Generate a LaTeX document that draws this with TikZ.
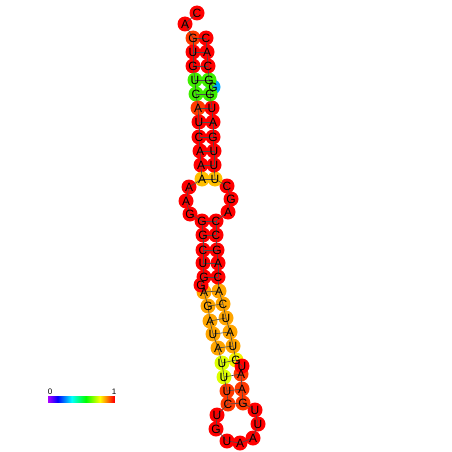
\documentclass[tikz,border=0pt]{standalone}
\usepackage{fontspec}
\setmainfont{Liberation Sans}
\definecolor{cr}{HTML}{FF0000}
\definecolor{cor}{HTML}{FF3A00}
\definecolor{co}{HTML}{FFA500}
\definecolor{cyo}{HTML}{FFBF00}
\definecolor{cy}{HTML}{DDFF00}
\definecolor{cyy}{HTML}{F2F200}
\definecolor{cg}{HTML}{40EE00}
\definecolor{cb}{HTML}{00AAFF}
\tikzset{
  ntc/.style={circle, minimum size=15pt, inner sep=0pt, outer sep=0pt},
  ntl/.style={font=\fontsize{12}{12}\selectfont, inner sep=0pt},
  bb/.style={draw=black!70, line width=0.6pt},
  lbl/.style={font=\fontsize{8}{8}\selectfont, inner sep=0pt}
}
\def\ntlist{1/197/13/cr/C, 2/185/24/cr/A, 3/193/38/cor/G, 4/193/52/cr/U, 5/193/66/cr/G, 6/195/80/cg/U, 7/196/94/cg/C, 8/198/108/cor/A, 9/199/122/cr/U, 10/199/137/cr/C, 11/200/151/cr/A, 12/201/165/cr/A, 13/202/179/cyo/A, 14/189/187/cr/A, 15/186/201/cr/A, 16/190/214/cr/G, 17/202/221/cr/G, 18/203/235/cr/G, 19/203/250/cr/C, 20/203/263/cr/U, 21/204/277/cr/G, 23/204/292/co/A, 22/201/285/cr/G, 24/208/306/co/G, 25/210/321/co/A, 26/213/334/co/U, 27/218/348/co/A, 28/222/363/cy/U, 29/224/377/cy/U, 30/227/391/cor/U, 31/228/404/cor/C, 32/217/415/cr/U, 33/216/429/cr/G, 34/227/441/cr/U, 35/240/443/cr/A, 36/253/438/cr/A, 37/258/424/cr/U, 38/255/410/cr/U, 39/243/403/cor/G, 40/242/389/cor/A, 41/241/374/cor/A, 42/236/360/cyy/G, 42b/242/366/cr/U, 43/233/346/co/U, 44/230/332/co/A, 45/226/318/co/U, 46/223/304/co/C, 47/219/291/co/A, 48/218/277/cr/C, 49/218/263/cr/A, 50/217/250/cr/G, 51/216/235/cr/C, 52/216/221/cr/C, 53/228/212/cr/A, 54/231/199/cr/G, 55/227/186/cr/C, 56/215/179/cyo/U, 57/214/165/cr/U, 58/214/151/cr/U, 59/213/137/cr/G, 60/213/122/cr/A, 61/212/108/cr/U, 63/213/87/cb/G, 62/210/94/cg/G, 64/209/80/cg/G, 65/208/66/cr/C, 66/207/52/cr/A, 67/206/38/cr/C}
\begin{document}
\begin{tikzpicture}[x=1pt,y=-1pt]
\useasboundingbox (0,0) rectangle (452,452);
% circles
\foreach \n/\x/\y/\c/\l in \ntlist {
  \node[ntc, fill=\c] (n\n) at (\x,\y) {};
}
% backbone
\foreach \a/\b in {1/2,2/3,3/4,4/5,5/6,6/7,7/8,8/9,9/10,10/11,11/12,12/13,13/14,14/15,15/16,16/17,17/18,18/19,19/20,20/21,21/22,22/23,23/24,24/25,25/26,26/27,27/28,28/29,29/30,30/31,31/32,32/33,33/34,34/35,35/36,36/37,37/38,38/39,39/40,40/41,41/42b,42b/42,42/43,43/44,44/45,45/46,46/47,47/48,48/49,49/50,50/51,51/52,52/53,53/54,54/55,55/56,56/57,57/58,58/59,59/60,60/61,61/62,62/63,63/64,64/65,65/66,66/67} {
  \draw[bb] (n\a.center) -- (n\b.center);
}
% base pairs
\foreach \a/\b in {3/67,4/66,5/65,6/64,7/62,8/61,9/60,10/59,11/58,12/57,13/56,17/52,18/51,19/50,20/49,21/48,23/47,24/46,25/45,26/44,27/43,28/42,29/41,30/40,31/39} {
  \draw[bb] (n\a.center) -- (n\b.center);
}
% letters
\foreach \n/\x/\y/\c/\l in \ntlist {
  \node[ntl] (l\n) at (n\n) {\l};
}
% colour bar
\foreach \i in {0,...,66} {
  \pgfmathsetmacro\h{0.78*(1-\i/66)}
  \definecolor{barc}{hsb}{\h,1,1}
  \fill[barc] (48+\i,396) rectangle (49.2+\i,403);
}
\coordinate (barl) at (50,392);
\coordinate (barr) at (114,392);
\node[lbl] (zero) at (barl) {0};
\node[lbl] (one) at (barr) {1};
\end{tikzpicture}
\end{document}
